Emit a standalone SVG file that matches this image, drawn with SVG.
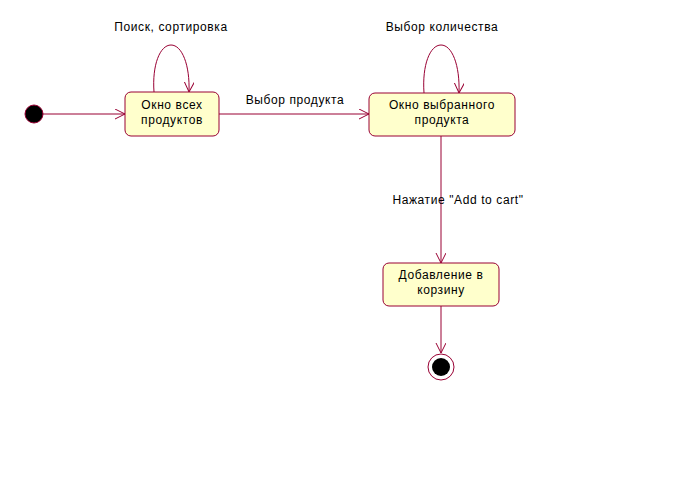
<svg xmlns="http://www.w3.org/2000/svg" width="681" height="498" viewBox="0 0 681 498">
<style>
.st{fill:#ffffcc;stroke:#990033;stroke-width:1}
.ln{fill:none;stroke:#990033;stroke-width:1}
text{font-family:"Liberation Sans",Arial,sans-serif;font-size:12px;fill:#000;letter-spacing:0.6px}
.c{text-anchor:middle}
</style>
<defs>
<marker id="ar" markerWidth="12" markerHeight="12" refX="10" refY="5" orient="auto" markerUnits="userSpaceOnUse">
<path d="M0,0 L10,5 L0,10" fill="none" stroke="#990033" stroke-width="1"/>
</marker>
</defs>
<rect width="681" height="498" fill="#fff"/>
<g id="connectors">
<line class="ln" x1="43" y1="114" x2="125" y2="114" marker-end="url(#ar)"/>
<path class="ln" d="M154,92 C152,65 160,45 171,45 C182,45 190,65 189,92" marker-end="url(#ar)"/>
<line class="ln" x1="219" y1="114" x2="369" y2="114" marker-end="url(#ar)"/>
<path class="ln" d="M424,93 C422,65 430,45 441,45 C452,45 460,65 459,93" marker-end="url(#ar)"/>
<line class="ln" x1="441" y1="136" x2="441" y2="263" marker-end="url(#ar)"/>
<line class="ln" x1="441" y1="306" x2="441" y2="353" marker-end="url(#ar)"/>
<text class="c" x="171" y="31">Поиск, сортировка</text>
<text class="c" x="295" y="104">Выбор продукта</text>
<text class="c" x="442" y="31">Выбор количества</text>
<text class="c" x="458" y="204">Нажатие "Add to cart"</text>
</g>
<g id="start"><circle cx="34" cy="114" r="9" fill="#000" stroke="#990033"/></g>
<g id="n1">
<rect class="st" x="125" y="92" width="94" height="44" rx="6"/>
<text class="c" x="172" y="109">Окно всех</text>
<text class="c" x="172" y="124">продуктов</text>
</g>
<g id="n2">
<rect class="st" x="369" y="93" width="146" height="43" rx="6"/>
<text class="c" x="442" y="109">Окно выбранного</text>
<text class="c" x="442" y="124">продукта</text>
</g>
<g id="n3">
<rect class="st" x="383" y="263" width="116" height="43" rx="6"/>
<text class="c" x="441" y="279">Добавление в</text>
<text class="c" x="441" y="294">корзину</text>
</g>
<g id="end">
<circle cx="441" cy="367" r="13" fill="#fff" stroke="#990033"/>
<circle cx="441" cy="367" r="9" fill="#000"/>
</g>
</svg>
